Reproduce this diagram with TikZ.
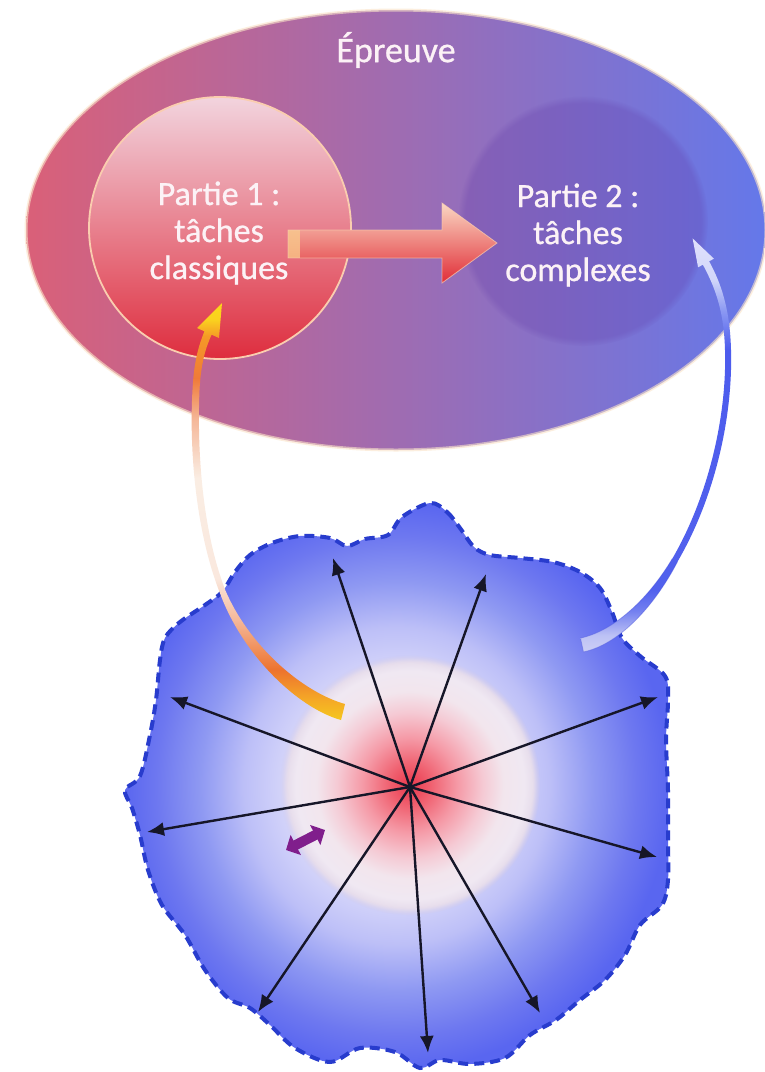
\documentclass[tikz,border=0pt]{standalone}
\usepackage{fontspec}
\setmainfont{Carlito}
\usetikzlibrary{arrows.meta,fadings}

% palette
\definecolor{ellL}{RGB}{218,96,120}
\definecolor{ellM}{RGB}{178,110,182}
\definecolor{ellR}{RGB}{100,120,234}
\definecolor{ellEdge}{RGB}{250,228,200}
\definecolor{cOneTop}{RGB}{242,212,222}
\definecolor{cOneMid}{RGB}{236,150,162}
\definecolor{cOneBot}{RGB}{222,45,62}
\definecolor{cOneEdge}{RGB}{250,205,175}
\definecolor{cTwoFill}{RGB}{95,55,165}
\definecolor{barTop}{RGB}{250,215,195}
\definecolor{barMid}{RGB}{242,140,132}
\definecolor{barBot}{RGB}{225,45,55}
\definecolor{barEnd}{RGB}{250,205,140}
\definecolor{labelWhite}{RGB}{252,242,246}
\definecolor{blobLine}{RGB}{40,60,205}
\definecolor{rayCol}{RGB}{22,22,40}
\definecolor{swapCol}{RGB}{128,30,140}
\definecolor{blueEdge}{RGB}{70,80,220}

% soft-edged radial fading: opaque core, fading rim
\pgfdeclareradialshading{firmedgeshade}{\pgfpoint{0bp}{0bp}}{rgb(0bp)=(1,1,1); rgb(23.5bp)=(1,1,1); rgb(25bp)=(0,0,0); rgb(50bp)=(0,0,0)}
\pgfdeclarefading{firmedge}{\pgfuseshading{firmedgeshade}}

% blue field, light in the middle, saturated at the rim
\pgfdeclareradialshading{blobshade}{\pgfpoint{0bp}{0bp}}{rgb(0bp)=(0.92,0.91,0.99); rgb(10bp)=(0.84,0.84,0.98); rgb(14bp)=(0.74,0.75,0.97); rgb(18bp)=(0.56,0.60,0.95); rgb(22bp)=(0.43,0.47,0.94); rgb(25bp)=(0.35,0.40,0.94); rgb(50bp)=(0.35,0.40,0.94)}

% red core with pale rim
\pgfdeclareradialshading{discshade}{\pgfpoint{0bp}{0bp}}{rgb(0bp)=(0.92,0.22,0.30); rgb(4bp)=(0.94,0.38,0.44); rgb(9bp)=(0.96,0.60,0.65); rgb(14bp)=(0.96,0.79,0.83); rgb(18bp)=(0.95,0.90,0.93); rgb(22bp)=(0.94,0.91,0.95); rgb(24bp)=(0.90,0.86,0.92); rgb(25bp)=(0.84,0.80,0.90); rgb(50bp)=(0.84,0.80,0.90)}

% colour run along the orange curved arrow (bottom to top)
\pgfdeclareverticalshading{orangeband}{100bp}{rgb(0bp)=(0.96,0.78,0.12); rgb(25bp)=(0.96,0.78,0.12); rgb(27.5bp)=(0.96,0.66,0.15); rgb(31bp)=(0.93,0.45,0.18); rgb(37bp)=(0.96,0.72,0.60); rgb(42bp)=(0.98,0.91,0.87); rgb(54bp)=(0.98,0.93,0.89); rgb(61bp)=(0.96,0.72,0.60); rgb(66bp)=(0.94,0.48,0.22); rgb(71bp)=(0.96,0.60,0.15); rgb(73bp)=(0.98,0.82,0.12); rgb(75bp)=(0.98,0.85,0.10); rgb(100bp)=(0.98,0.85,0.10)}

% colour run along the blue curved arrow (bottom to top)
\pgfdeclareverticalshading{blueband}{100bp}{rgb(0bp)=(0.80,0.81,0.96); rgb(25bp)=(0.80,0.81,0.96); rgb(27bp)=(0.74,0.76,0.96); rgb(30bp)=(0.45,0.50,0.94); rgb(32.5bp)=(0.32,0.38,0.93); rgb(61.5bp)=(0.30,0.36,0.93); rgb(66.3bp)=(0.55,0.60,0.95); rgb(70bp)=(0.82,0.84,0.98); rgb(75bp)=(0.88,0.88,0.99); rgb(100bp)=(0.88,0.88,0.99)}

\begin{document}
\begin{tikzpicture}[x=1pt,y=-1pt,
  lbl/.style={text=labelWhite, font=\fontsize{34}{37}\selectfont\addfontfeature{FakeBold=0.8}, align=center, inner sep=0pt},
  ray/.style={draw=rayCol, line width=2.4pt, -{Latex[length=17pt,width=14pt]}},
  swap/.style={draw=swapCol, line width=10pt, {Triangle[length=11pt,width=22pt]}-{Triangle[length=11pt,width=22pt]}},
  blobedge/.style={draw=blobLine, line width=4pt, dash pattern=on 10pt off 6pt}
]
\useasboundingbox (0,0) rectangle (765,1072);
\fill[white] (0,0) rectangle (765,1072);

% ---------- upper part: the test ----------
\shade[left color=ellL, middle color=ellM, right color=ellR] (396,230) ellipse[x radius=370pt, y radius=220pt];
\draw[ellEdge, line width=3pt, opacity=0.6] (396,230) ellipse[x radius=370pt, y radius=220pt];

% part 2 disc
\fill[cTwoFill, fill opacity=0.26, path fading=firmedge] (583,221) circle[radius=125pt];

% part 1 disc
\shade[top color=cOneTop, middle color=cOneMid, bottom color=cOneBot] (220,228) circle[radius=131pt];
\draw[cOneEdge, line width=1.8pt] (220,228) circle[radius=131pt];

% block arrow from part 1 to part 2
\coordinate (barTip) at (497,243);
\shade[top color=barTop, middle color=barMid, bottom color=barBot]
  (288,230) -- (442,230) -- (442,203) -- (barTip) -- (442,283) -- (442,258) -- (288,258) -- cycle;
\fill[barEnd, opacity=0.75] (288,230) rectangle (300,258);
\draw[cOneEdge, line width=0.8pt, opacity=0.7]
  (288,230) -- (442,230) -- (442,203) -- (barTip) -- (442,283) -- (442,258) -- (288,258) -- cycle;

% labels
\node[lbl, font=\fontsize{36}{37}\selectfont\addfontfeature{FakeBold=0.8}] (title) at (396,50) {Épreuve};
\node[lbl] (p1) at (219,233) {Partie 1 :\\tâches\\classiques};
\node[lbl] (p2) at (578,235) {Partie 2 :\\tâches\\complexes};

% ---------- lower part: the field of knowledge ----------
\shadedraw[shading=blobshade, blobedge] plot[smooth cycle, tension=0.55] coordinates {
  (430,503) (447,512) (460,528) (474,547) (490,555) (520,558) (553,562) (580,572)
  (600,588) (612,612) (622,638) (640,656) (665,676) (668,700) (666,740) (668,790)
  (668,840) (668,880) (662,905) (640,925) (625,955) (605,980) (580,1000) (556,1020)
  (530,1035) (505,1058) (470,1064) (440,1060) (420,1068) (395,1052) (360,1048)
  (330,1062) (295,1048) (270,1025) (250,1008) (228,998) (205,970) (185,935)
  (162,905) (148,870) (140,835) (132,808) (125,790) (140,776) (150,735) (156,700)
  (160,660) (165,638) (180,622) (205,605) (222,592) (235,572) (250,555) (272,543)
  (300,536) (330,538) (347,546) (365,539) (388,535) (402,517)};

% central disc
\shade[shading=discshade, path fading=firmedge] (410,785) circle[radius=130pt];

% rays from the centre
\coordinate (ctr) at (410,787);
\coordinate (r1) at (333,558);
\coordinate (r2) at (486,574);
\coordinate (r3) at (658,697);
\coordinate (r4) at (657,857);
\coordinate (r5) at (540,1013);
\coordinate (r6) at (428,1053);
\coordinate (r7) at (258,1012);
\coordinate (r8) at (147,832);
\coordinate (r9) at (170,697);
\foreach \r in {r1,r2,r3,r4,r5,r6,r7,r8,r9} \draw[ray] (ctr) -- (\r);

% small double arrow
\coordinate (swA) at (286,850);
\coordinate (swB) at (325,830);
\draw[swap] (swA) -- (swB);

% orange curved arrow towards part 1
\coordinate (orTip) at (222,303);
\shade[shading=orangeband]
  (345,704) .. controls (302,692) and (248,645) .. (224.8,588.9)
  .. controls (202,529) and (197,450) .. (199.5,390)
  .. controls (201,362) and (206,347) .. (211.6,334.7)
  -- (219,338) -- (orTip) -- (197,328) -- (204.4,331.3)
  .. controls (199,345) and (194,360) .. (192.5,389.8)
  .. controls (189,450) and (196,531) .. (219.2,591.1)
  .. controls (242,655) and (298,708) .. (341,720) -- cycle;

% blue curved arrow towards part 2
\coordinate (blTip) at (692.6,238.4);
\shade[shading=blueband]
  (583.5,651.9) .. controls (617,645) and (653,609) .. (677.6,561.5)
  .. controls (713,501) and (733,421) .. (731,349.9)
  .. controls (730,309) and (721,283) .. (709.1,261.3)
  -- (713.9,258.7) -- (blTip) -- (698.1,267.3) -- (702.9,264.7)
  .. controls (715,287) and (724,311) .. (725,350.1)
  .. controls (727,419) and (707,499) .. (672.4,558.5)
  .. controls (647,601) and (613,631) .. (580.5,638.1) -- cycle;
\draw[blueEdge, line width=0.8pt, opacity=0.4]
  (583.5,651.9) .. controls (617,645) and (653,609) .. (677.6,561.5)
  (672.4,558.5) .. controls (647,601) and (613,631) .. (580.5,638.1) -- (583.5,651.9);
\end{tikzpicture}
\end{document}
